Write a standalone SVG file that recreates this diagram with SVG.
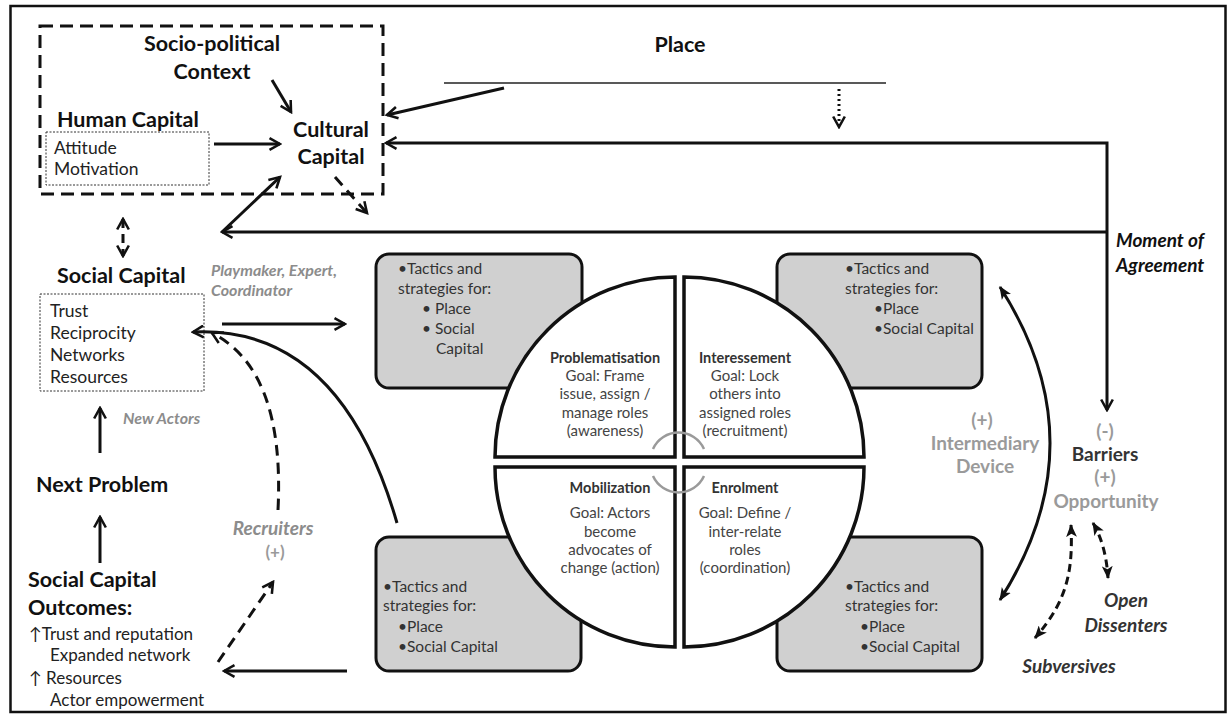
<svg xmlns="http://www.w3.org/2000/svg" width="1228" height="715" viewBox="0 0 1228 715">
  <style>
    text { font-family: Lato, "Liberation Sans", sans-serif; }
    .h { font-size: 21.5px; font-weight: bold; fill: #111; }
    .b { font-size: 17.5px; fill: #222; }
    .o { font-size: 17px; fill: #222; }
    .t { font-size: 15.5px; fill: #333; }
    .qh { font-size: 14.5px; font-weight: bold; fill: #333; text-anchor: middle; }
    .q { font-size: 15px; fill: #444; text-anchor: middle; }
    .g { font-size: 16px; font-weight: bold; font-style: italic; fill: #8c8c8c; }
    .gl { font-size: 19px; font-weight: bold; fill: #9a9a9a; text-anchor: middle; }
    .di { font-size: 19px; font-weight: bold; font-style: italic; fill: #333; text-anchor: middle; }
    .ln { fill: none; stroke: #111; stroke-width: 3; }
    .dash { stroke-dasharray: 11 7; }
    .dot { stroke-dasharray: 2 3; }
    .box { fill: #d0d0d0; stroke: #111; stroke-width: 3; }
    .quad { fill: #fff; stroke: #111; stroke-width: 3.5; }
    .hook { fill: none; stroke: #9a9a9a; stroke-width: 2.5; }
  </style>
  <defs>
    <marker id="chev" viewBox="0 0 12 12" refX="10" refY="6" markerWidth="14" markerHeight="14" markerUnits="userSpaceOnUse" orient="auto-start-reverse">
      <path d="M1,1 L10,6 L1,11" fill="none" stroke="#111" stroke-width="2.2"/>
    </marker>
    <marker id="tri" viewBox="0 0 12 10" refX="11" refY="5" markerWidth="13" markerHeight="11" markerUnits="userSpaceOnUse" orient="auto-start-reverse">
      <path d="M0,0 L12,5 L0,10 L3,5 Z" fill="#111"/>
    </marker>
  </defs>

  <rect width="1228" height="715" fill="#fff"/>
  <!-- outer frame -->
  <rect x="10.5" y="6" width="1215" height="706" fill="none" stroke="#111" stroke-width="2.5"/>

  <!-- context frame around human and cultural capital -->
  <g id="context-frame">
    <rect x="40" y="26" width="343" height="168" fill="none" stroke="#111" stroke-width="3" stroke-dasharray="13 7"/>
    <text class="h" x="212" y="51" text-anchor="middle">Socio-political</text>
    <text class="h" x="212" y="79" text-anchor="middle">Context</text>
  </g>

  <g id="human-capital">
    <text class="h" x="57" y="127">Human Capital</text>
    <rect x="46" y="132" width="163" height="53" fill="#fff" stroke="#333" stroke-width="1" stroke-dasharray="2 1.5"/>
    <text class="b" x="54" y="154">Attitude</text>
    <text class="b" x="54" y="175">Motivation</text>
  </g>

  <g id="cultural-capital">
    <text class="h" x="331" y="137" text-anchor="middle">Cultural</text>
    <text class="h" x="331" y="164" text-anchor="middle">Capital</text>
  </g>

  <g id="place">
    <text class="h" x="680" y="52" text-anchor="middle">Place</text>
    <line x1="444" y1="83" x2="886" y2="83" stroke="#222" stroke-width="1.5"/>
  </g>

  <g id="social-capital">
    <text class="h" x="57" y="283">Social Capital</text>
    <text class="g" x="211" y="276">Playmaker,  Expert,</text>
    <text class="g" x="211" y="296">Coordinator</text>
    <rect x="40" y="294" width="164" height="97" fill="#fff" stroke="#333" stroke-width="1" stroke-dasharray="2 1.5"/>
    <text class="b" x="50" y="317">Trust</text>
    <text class="b" x="50" y="339">Reciprocity</text>
    <text class="b" x="50" y="361">Networks</text>
    <text class="b" x="50" y="383">Resources</text>
  </g>

  <g id="new-actors">
    <text class="g" x="123" y="424">New Actors</text>
  </g>

  <g id="next-problem">
    <text class="h" x="36" y="492">Next Problem</text>
  </g>

  <g id="outcomes">
    <text class="h" x="28" y="587">Social Capital</text>
    <text class="h" x="28" y="615">Outcomes:</text>
    <text class="o" x="29" y="640">↑Trust and reputation</text>
    <text class="o" x="50" y="661">Expanded network</text>
    <text class="o" x="29" y="684">↑ Resources</text>
    <text class="o" x="50" y="706">Actor empowerment</text>
  </g>

  <g id="recruiters">
    <text class="g" x="273" y="535" text-anchor="middle" style="font-size:19px">Recruiters</text>
    <text class="gl" x="275" y="558" style="font-size:17px">(+)</text>
  </g>

  <!-- tactic boxes -->
  <g id="tactics-top-left">
    <rect class="box" x="376" y="254" width="206" height="134" rx="13"/>
    <text class="t" x="398" y="274">•Tactics and</text>
    <text class="t" x="398" y="294">strategies for:</text>
    <text class="t" x="422" y="314">•  Place</text>
    <text class="t" x="422" y="334">•  Social</text>
    <text class="t" x="436" y="354">Capital</text>
  </g>
  <g id="tactics-top-right">
    <rect class="box" x="777" y="254" width="205" height="134" rx="13"/>
    <text class="t" x="845" y="274">•Tactics and</text>
    <text class="t" x="845" y="294">strategies for:</text>
    <text class="t" x="874" y="314">•Place</text>
    <text class="t" x="874" y="334">•Social Capital</text>
  </g>
  <g id="tactics-bottom-left">
    <rect class="box" x="376" y="537" width="205" height="134" rx="13"/>
    <text class="t" x="383" y="592">•Tactics and</text>
    <text class="t" x="383" y="611">strategies for:</text>
    <text class="t" x="398" y="632">•Place</text>
    <text class="t" x="398" y="652">•Social Capital</text>
  </g>
  <g id="tactics-bottom-right">
    <rect class="box" x="777" y="537" width="205" height="134" rx="13"/>
    <text class="t" x="845" y="592">•Tactics and</text>
    <text class="t" x="845" y="611">strategies for:</text>
    <text class="t" x="860" y="632">•Place</text>
    <text class="t" x="860" y="652">•Social Capital</text>
  </g>

  <!-- translation cycle: four quarter discs -->
  <g id="problematisation">
    <path class="quad" d="M675,457 L495,457 A180,180 0 0 1 675,277 Z"/>
    <text class="qh" x="605" y="363">Problematisation</text>
    <text class="q" x="605" y="381">Goal: Frame</text>
    <text class="q" x="605" y="399">issue, assign /</text>
    <text class="q" x="605" y="418">manage roles</text>
    <text class="q" x="605" y="436">(awareness)</text>
  </g>
  <g id="interessement">
    <path class="quad" d="M684,457 L684,277 A180,180 0 0 1 864,457 Z"/>
    <text class="qh" x="745" y="363">Interessement</text>
    <text class="q" x="745" y="381">Goal: Lock</text>
    <text class="q" x="745" y="399">others into</text>
    <text class="q" x="745" y="418">assigned roles</text>
    <text class="q" x="745" y="436">(recruitment)</text>
  </g>
  <g id="mobilization">
    <path class="quad" d="M675,467 L675,647 A180,180 0 0 1 495,467 Z"/>
    <text class="qh" x="610" y="493">Mobilization</text>
    <text class="q" x="610" y="518">Goal: Actors</text>
    <text class="q" x="610" y="537">become</text>
    <text class="q" x="610" y="555">advocates of</text>
    <text class="q" x="610" y="573">change (action)</text>
  </g>
  <g id="enrolment">
    <path class="quad" d="M684,467 L864,467 A180,180 0 0 1 684,647 Z"/>
    <text class="qh" x="745" y="493">Enrolment</text>
    <text class="q" x="745" y="518">Goal: Define /</text>
    <text class="q" x="745" y="537">inter-relate</text>
    <text class="q" x="745" y="555">roles</text>
    <text class="q" x="745" y="573">(coordination)</text>
  </g>
  <g id="cycle-hooks">
    <path class="hook" d="M653,449 A28,28 0 0 1 704,449"/>
    <path class="hook" d="M653,476 A28,28 0 0 0 704,476"/>
  </g>

  <g id="intermediary">
    <text class="gl" x="982" y="427">(+)</text>
    <text class="gl" x="985" y="450">Intermediary</text>
    <text class="gl" x="985" y="473">Device</text>
  </g>

  <g id="barriers">
    <text class="gl" x="1105" y="438">(-)</text>
    <text class="h" x="1105" y="461" text-anchor="middle" style="font-size:19px;fill:#333">Barriers</text>
    <text class="gl" x="1105" y="484">(+)</text>
    <text class="gl" x="1106" y="508">Opportunity</text>
  </g>

  <g id="moment">
    <text class="di" x="1116" y="247" style="text-anchor:start;fill:#111">Moment of</text>
    <text class="di" x="1116" y="272" style="text-anchor:start;fill:#111">Agreement</text>
  </g>

  <g id="dissenters">
    <text class="di" x="1126" y="607">Open</text>
    <text class="di" x="1126" y="632">Dissenters</text>
    <text class="di" x="1069" y="673">Subversives</text>
  </g>

  <!-- connectors -->
  <g id="connectors">
    <line class="ln" x1="214" y1="144" x2="280" y2="144" marker-end="url(#chev)"/>
    <line class="ln" x1="272" y1="80" x2="291" y2="112" marker-end="url(#chev)"/>
    <line class="ln" x1="504" y1="88" x2="387" y2="115" marker-end="url(#chev)"/>
    <line class="ln dot" x1="839" y1="89" x2="839" y2="127" stroke-width="2.5" marker-end="url(#chev)"/>
    <line class="ln dash" x1="335" y1="177" x2="367" y2="213" stroke-dasharray="9 6" marker-end="url(#chev)"/>
    <!-- agreement loop back to cultural and social capital -->
    <polyline class="ln" points="386,143 1107,143 1107,410" marker-start="url(#chev)" marker-end="url(#chev)"/>
    <line class="ln" x1="1107" y1="232" x2="222" y2="232" marker-end="url(#chev)"/>
    <line class="ln" x1="222" y1="232" x2="280" y2="177" stroke-width="2.5" marker-end="url(#chev)"/>
    <line class="ln" x1="123" y1="219" x2="123" y2="256" stroke-dasharray="9 6" marker-start="url(#chev)" marker-end="url(#chev)"/>
    <line class="ln" x1="222" y1="324" x2="345" y2="324" marker-end="url(#chev)"/>
    <path class="ln" d="M397,523 Q340,325 193,332" stroke-width="2.5" marker-end="url(#chev)"/>
    <path class="ln dash" d="M278,510 Q285,370 212,333" marker-end="url(#chev)"/>
    <line class="ln" x1="100" y1="453" x2="100" y2="408" marker-end="url(#chev)"/>
    <line class="ln" x1="100" y1="563" x2="100" y2="517" marker-end="url(#chev)"/>
    <line class="ln" x1="347" y1="671" x2="224" y2="671" marker-end="url(#chev)"/>
    <line class="ln dash" x1="218" y1="662" x2="273" y2="582" marker-end="url(#chev)"/>
    <path class="ln" d="M1000,287 Q1100,443 1000,600" stroke-width="2.5" marker-start="url(#tri)" marker-end="url(#tri)"/>
    <path class="ln" d="M1071,525 C1073,570 1068,600 1035,638" stroke-dasharray="8 5" marker-start="url(#tri)" marker-end="url(#tri)"/>
    <path class="ln" d="M1093,523 Q1106,545 1108,578" stroke-dasharray="8 5" marker-start="url(#tri)" marker-end="url(#tri)"/>
  </g>
</svg>
